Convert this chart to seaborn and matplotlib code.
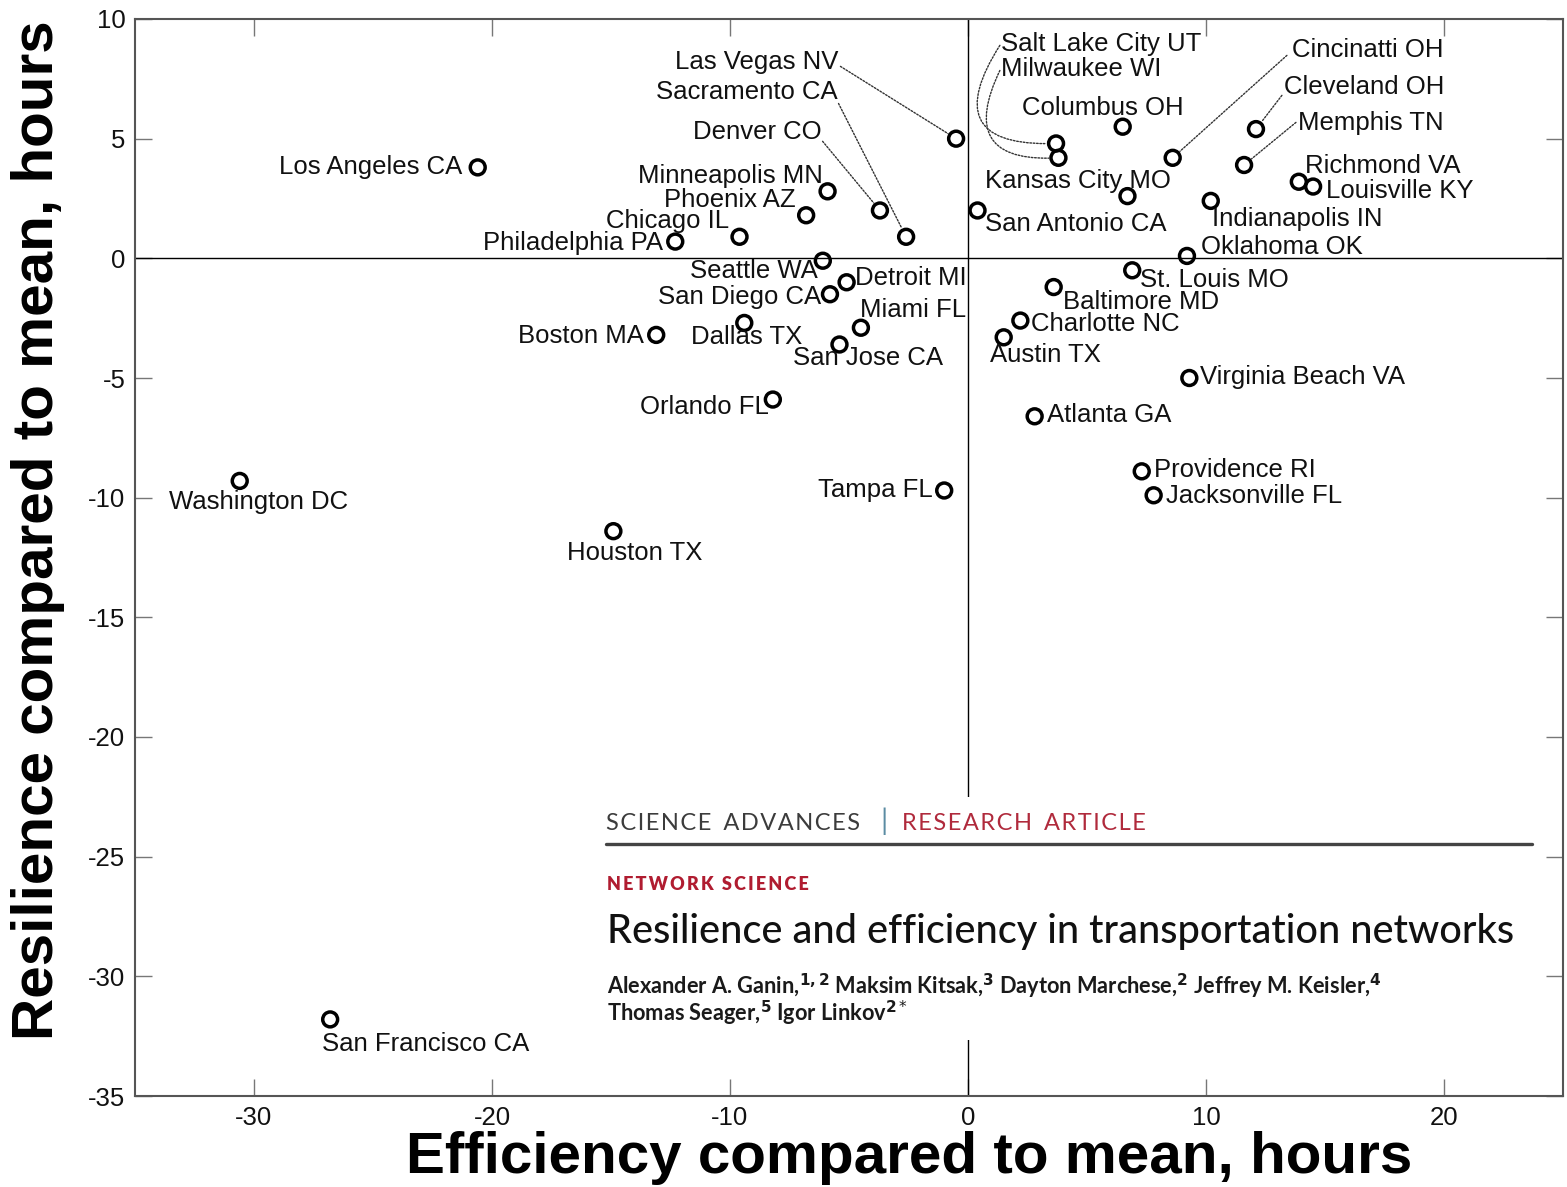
import matplotlib
matplotlib.use("Agg")
import matplotlib.pyplot as plt
import matplotlib.patches as mpatches
import seaborn as sns
import pandas as pd

# ---- data: efficiency (x) and resilience (y) relative to the mean, in hours ----
cities = [
    "Los Angeles CA", "Las Vegas NV", "Sacramento CA", "Denver CO", "Minneapolis MN",
    "Phoenix AZ", "Chicago IL", "Philadelphia PA", "Seattle WA", "Detroit MI",
    "San Diego CA", "Miami FL", "Boston MA", "Dallas TX", "San Jose CA",
    "Orlando FL", "Washington DC", "Houston TX", "Tampa FL", "San Francisco CA",
    "Salt Lake City UT", "Milwaukee WI", "Columbus OH", "Cincinatti OH", "Cleveland OH",
    "Memphis TN", "Richmond VA", "Louisville KY", "Kansas City MO", "Indianapolis IN",
    "San Antonio CA", "Oklahoma OK", "St. Louis MO", "Baltimore MD", "Charlotte NC",
    "Austin TX", "Virginia Beach VA", "Atlanta GA", "Providence RI", "Jacksonville FL",
]
efficiency = [
    -20.6, -0.5, -2.6, -3.7, -5.9,
    -6.8, -9.6, -12.3, -6.1, -5.1,
    -5.8, -4.5, -13.1, -9.4, -5.4,
    -8.2, -30.6, -14.9, -1.0, -26.8,
    3.7, 3.8, 6.5, 8.6, 12.1,
    11.6, 13.9, 14.5, 6.7, 10.2,
    0.4, 9.2, 6.9, 3.6, 2.2,
    1.5, 9.3, 2.8, 7.3, 7.8,
]
resilience = [
    3.8, 5.0, 0.9, 2.0, 2.8,
    1.8, 0.9, 0.7, -0.1, -1.0,
    -1.5, -2.9, -3.2, -2.7, -3.6,
    -5.9, -9.3, -11.4, -9.7, -31.8,
    4.8, 4.2, 5.5, 4.2, 5.4,
    3.9, 3.2, 3.0, 2.6, 2.4,
    2.0, 0.1, -0.5, -1.2, -2.6,
    -3.3, -5.0, -6.6, -8.9, -9.9,
]
x_ticks = [-30, -20, -10, 0, 10, 20]
y_ticks = [10, 5, 0, -5, -10, -15, -20, -25, -30, -35]

df = pd.DataFrame({"city": cities, "eff": efficiency, "res": resilience})

# ---- label layout: text anchor (data coords) and horizontal alignment ----
label_layout = {
    "Los Angeles CA": (-21.27, 3.80, "right"),
    "Las Vegas NV": (-5.44, 8.19, "right"),
    "Sacramento CA": (-5.49, 6.93, "right"),
    "Denver CO": (-6.16, 5.26, "right"),
    "Minneapolis MN": (-6.11, 3.42, "right"),
    "Phoenix AZ": (-7.24, 2.45, "right"),
    "Chicago IL": (-10.05, 1.55, "right"),
    "Philadelphia PA": (-12.81, 0.62, "right"),
    "Seattle WA": (-6.32, -0.54, "right"),
    "Detroit MI": (-4.73, -0.84, "left"),
    "San Diego CA": (-6.16, -1.63, "right"),
    "Miami FL": (-4.52, -2.17, "left"),
    "Boston MA": (-13.61, -3.26, "right"),
    "Dallas TX": (-11.64, -3.30, "left"),
    "San Jose CA": (-7.37, -4.18, "left"),
    "Orlando FL": (-8.38, -6.22, "right"),
    "Washington DC": (-33.58, -10.19, "left"),
    "Houston TX": (-16.83, -12.32, "left"),
    "Tampa FL": (-1.47, -9.69, "right"),
    "San Francisco CA": (-27.14, -32.83, "left"),
    "Salt Lake City UT": (1.38, 8.94, "left"),
    "Milwaukee WI": (1.38, 7.89, "left"),
    "Columbus OH": (2.26, 6.27, "left"),
    "Cincinatti OH": (13.61, 8.69, "left"),
    "Cleveland OH": (13.27, 7.14, "left"),
    "Memphis TN": (13.86, 5.64, "left"),
    "Richmond VA": (14.15, 3.84, "left"),
    "Louisville KY": (15.03, 2.80, "left"),
    "Kansas City MO": (0.71, 3.22, "left"),
    "Indianapolis IN": (10.26, 1.63, "left"),
    "San Antonio CA": (0.71, 1.42, "left"),
    "Oklahoma OK": (9.80, 0.46, "left"),
    "St. Louis MO": (7.24, -0.92, "left"),
    "Baltimore MD": (3.98, -1.84, "left"),
    "Charlotte NC": (2.64, -2.76, "left"),
    "Austin TX": (0.92, -4.05, "left"),
    "Virginia Beach VA": (9.76, -4.97, "left"),
    "Atlanta GA": (3.31, -6.56, "left"),
    "Providence RI": (7.83, -8.86, "left"),
    "Jacksonville FL": (8.33, -9.94, "left"),
}
# dotted leader lines: start point near the label and curvature
leaders = {
    "Las Vegas NV": ((-5.36, 8.02), 0.0),
    "Sacramento CA": ((-5.44, 6.47), 0.0),
    "Denver CO": ((-6.11, 4.89), 0.0),
    "Salt Lake City UT": ((1.34, 8.90), 0.95),
    "Milwaukee WI": ((1.34, 7.85), 0.85),
    "Cincinatti OH": ((13.40, 8.48), 0.0),
    "Cleveland OH": ((13.19, 6.81), 0.0),
    "Memphis TN": ((13.78, 5.68), 0.0),
}

sns.set_theme(style="ticks")
plt.rcParams["font.family"] = ["Liberation Sans", "DejaVu Sans"]
plt.rcParams["text.color"] = "black"

fig = plt.figure(figsize=(15.67, 11.87), dpi=100)
ax = fig.add_axes([135 / 1567, 91 / 1187, 1428 / 1567, 1077 / 1187])

ax.axhline(0, color="black", lw=1.0, zorder=1)
ax.axvline(0, color="black", lw=1.0, zorder=1)

sns.scatterplot(data=df, x="eff", y="res", ax=ax, s=115, marker="o",
                facecolor="none", edgecolor="black", linewidth=2.5, zorder=4,
                legend=False)

for name, xv, yv in zip(cities, efficiency, resilience):
    tx, ty, ha = label_layout[name]
    ax.text(tx, ty, name, ha=ha, va="center", fontsize=18.5, color="#111111", zorder=5)
    if name in leaders:
        (sx, sy), rad = leaders[name]
        ax.annotate("", xy=(xv, yv), xytext=(sx, sy),
                    arrowprops=dict(arrowstyle="-", color="#333333", lw=1.0,
                                    linestyle=(0, (1.2, 1.2)),
                                    connectionstyle=f"arc3,rad={rad}",
                                    shrinkA=0, shrinkB=7),
                    zorder=3)

ax.set_xlim(-35, 25)
ax.set_ylim(-35, 10)
ax.set_xticks(x_ticks)
ax.set_yticks(y_ticks)
ax.set_xticklabels([str(v) for v in x_ticks])
ax.set_yticklabels([str(v) for v in y_ticks])
ax.tick_params(direction="in", length=12, width=1.0, color="#777777",
               labelsize=18.5, labelcolor="#111111", pad=7,
               top=True, right=True)
for sp in ax.spines.values():
    sp.set_color("#555555")
    sp.set_linewidth(1.5)
ax.set_xlabel("")
ax.set_ylabel("")

# ---- article header panel in the lower-right corner ----
ax.add_patch(mpatches.Rectangle((-15.83, -32.66), 40.0, 10.15, facecolor="white",
                                edgecolor="none", zorder=6))
hdr = ["Lato", "DejaVu Sans"]
hs = "\u200a"
ts = "\u2009"
fig.text(606 / 1567, 1 - 823 / 1187, hs.join("SCIENCE") + "  " + hs.join("ADVANCES"),
         family=hdr, fontsize=17, color="#3c3c3c", va="center", ha="left", zorder=7)
fig.text(884 / 1567, 1 - 821 / 1187, "|", family=hdr, fontsize=21,
         color="#5b8ca3", va="center", ha="center", zorder=7)
fig.text(902 / 1567, 1 - 823 / 1187, hs.join("RESEARCH") + "  " + hs.join("ARTICLE"),
         family=hdr, fontsize=17, color="#b02a3c", va="center", ha="left", zorder=7)
fig.add_artist(plt.Line2D([606 / 1567, 1532 / 1567], [1 - 844 / 1187, 1 - 844 / 1187],
                          color="#444444", lw=2.4, zorder=7))
fig.text(607 / 1567, 1 - 884 / 1187, ts.join("NETWORK") + "  " + ts.join("SCIENCE"),
         family=hdr, fontsize=13, fontweight="heavy", color="#b01c30",
         va="center", ha="left", zorder=7)
fig.text(607 / 1567, 1 - 932 / 1187,
         "Resilience and efficiency in transportation networks",
         family=hdr, fontsize=28.5, fontweight="medium", color="#111111",
         va="center", ha="left", zorder=7)
fig.text(607 / 1567, 1 - 986 / 1187,
         r"Alexander A. Ganin,$^{\mathbf{1,2}}$ Maksim Kitsak,$^{\mathbf{3}}$ "
         r"Dayton Marchese,$^{\mathbf{2}}$ Jeffrey M. Keisler,$^{\mathbf{4}}$",
         family=hdr, fontsize=15.7, fontweight="bold", color="#1a1a1a",
         va="center", ha="left", zorder=7)
fig.text(607 / 1567, 1 - 1013 / 1187,
         r"Thomas Seager,$^{\mathbf{5}}$ Igor Linkov$^{\mathbf{2}*}$",
         family=hdr, fontsize=15.7, fontweight="bold", color="#1a1a1a",
         va="center", ha="left", zorder=7)

# ---- axis titles ----
fig.text(909 / 1567, 1 - 1158 / 1187, "Efficiency compared to mean, hours",
         fontsize=42, fontweight="bold", color="black", ha="center", va="center")
fig.text(38 / 1567, 1 - 530 / 1187, "Resilience compared to mean, hours",
         fontsize=42, fontweight="bold", color="black", ha="center", va="center",
         rotation=90)

fig.savefig("out.png", dpi=100, facecolor="white")
